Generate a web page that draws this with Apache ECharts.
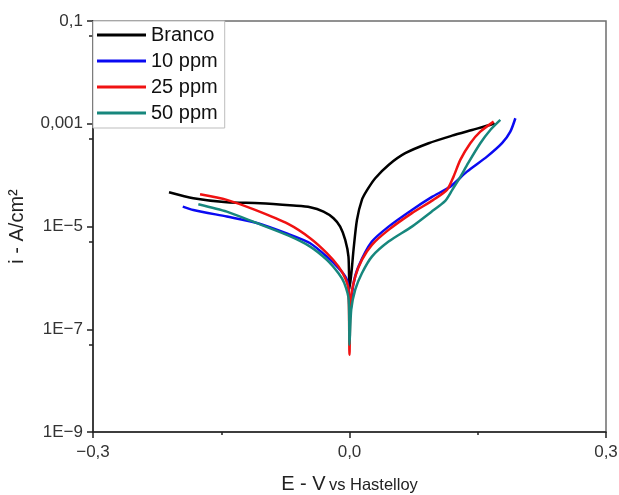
<!DOCTYPE html>
<html>
<head>
<meta charset="utf-8">
<script src="https://cdn.jsdelivr.net/npm/echarts@6/dist/echarts.min.js"></script>
<style>
html,body{margin:0;padding:0;background:#fff;}
#chart{width:619px;height:495px;}
</style>
</head>
<body>
<div id="chart"></div>
<script>
// Series names
const seriesNames = ['Branco', '10 ppm', '25 ppm', '50 ppm'];
const seriesColors = ['#000000', '#0a0af2', '#f01212', '#17877d'];

// [E (V vs Hastelloy), i (A/cm2)]
const branco = [
  [-0.2111, 4.65e-5], [-0.1826, 3.56e-5], [-0.1435, 2.97e-5], [-0.1045, 2.84e-5],
  [-0.0656, 2.55e-5], [-0.0460, 2.37e-5], [-0.0304, 1.95e-5], [-0.0187, 1.45e-5],
  [-0.0109, 9.95e-6], [-0.0050, 5.48e-6], [-0.0012, 2.59e-6], [0.0000, 6.0e-7],
  [0.0026, 1.43e-6], [0.0047, 3.51e-6], [0.0087, 1.34e-5], [0.0145, 3.30e-5],
  [0.0207, 5.15e-5], [0.0301, 8.71e-5], [0.0457, 1.58e-4], [0.0652, 2.67e-4],
  [0.0925, 4.18e-4], [0.1199, 5.86e-4], [0.1433, 7.57e-4], [0.1667, 9.77e-4],
  [0.1694, 1.04e-3]
];
const ppm10 = [
  [-0.1950, 2.44e-5], [-0.1826, 2.10e-5], [-0.1435, 1.56e-5], [-0.1104, 1.20e-5],
  [-0.0718, 7.18e-6], [-0.0460, 4.73e-6], [-0.0265, 2.59e-6], [-0.0109, 1.43e-6],
  [-0.0030, 9.14e-7], [-0.0006, 4.68e-7], [0.0000, 1.51e-7],
  [0.0014, 2.4e-7], [0.0043, 7.2e-7], [0.0105, 1.66e-6], [0.0262, 5.08e-6],
  [0.0457, 9.95e-6], [0.0730, 2.10e-5], [0.0965, 3.77e-5], [0.1179, 5.97e-5],
  [0.1374, 1.17e-4], [0.1608, 2.29e-4], [0.1784, 4.18e-4], [0.1881, 7.02e-4],
  [0.1940, 1.28e-3]
];
const ppm25 = [
  [-0.1748, 4.25e-5], [-0.1435, 3.30e-5], [-0.1104, 2.10e-5], [-0.0718, 1.12e-5],
  [-0.0460, 5.92e-6], [-0.0265, 3.03e-6], [-0.0129, 1.66e-6], [-0.0050, 9.86e-7],
  [-0.0012, 5.9e-7], [0.0000, 3.2e-8],
  [0.0014, 3.73e-7], [0.0067, 1.06e-6], [0.0145, 2.24e-6], [0.0262, 4.39e-6],
  [0.0457, 8.59e-6], [0.0730, 1.82e-5], [0.0980, 3.30e-5], [0.1140, 5.15e-5],
  [0.1217, 9.35e-5], [0.1296, 1.98e-4], [0.1413, 4.18e-4], [0.1530, 7.02e-4],
  [0.1686, 1.10e-3]
];
const ppm50 = [
  [-0.1768, 2.72e-5], [-0.1435, 1.95e-5], [-0.1104, 1.20e-5], [-0.0718, 6.71e-6],
  [-0.0460, 4.06e-6], [-0.0265, 2.24e-6], [-0.0129, 1.23e-6], [-0.0062, 8.0e-7],
  [-0.0009, 3.7e-7], [0.0000, 5.0e-8],
  [0.0020, 2.4e-7], [0.0067, 5.9e-7], [0.0145, 1.23e-6], [0.0262, 2.59e-6],
  [0.0457, 5.08e-6], [0.0730, 9.95e-6], [0.0956, 1.92e-5], [0.1120, 3.15e-5],
  [0.1202, 5.15e-5], [0.1296, 9.23e-5], [0.1389, 1.73e-4], [0.1530, 4.18e-4],
  [0.1647, 7.57e-4], [0.1764, 1.19e-3]
];

// Tick labels
const xTickLabels = ['\u22120,3', '0,0', '0,3'];
const yTickLabels = ['1E\u22129', '1E\u22127', '1E\u22125', '0,001', '0,1'];

const allData = [branco, ppm10, ppm25, ppm50];
const FONT = '"Liberation Sans", Arial, sans-serif';

const chart = echarts.init(document.getElementById('chart'), null, {renderer: 'canvas'});
chart.setOption({
  animation: false,
  backgroundColor: '#ffffff',
  grid: {
    left: 93, top: 21, right: 13, bottom: 63,
    containLabel: false, outerBoundsMode: 'none',
    show: true, borderColor: '#6e6e6e', borderWidth: 1.5, backgroundColor: 'transparent'
  },
  legend: {
    orient: 'vertical',
    left: 93, top: 21,
    padding: [3, 7, 4, 4],
    itemGap: 4,
    itemWidth: 49, itemHeight: 3,
    icon: 'rect',
    backgroundColor: '#ffffff',
    borderColor: '#bdbdbd', borderWidth: 1,
    textStyle: {fontFamily: FONT, fontSize: 20, color: '#111', lineHeight: 22},
    data: seriesNames
  },
  xAxis: {
    type: 'value',
    min: -0.3, max: 0.3, interval: 0.3,
    name: '{a|E - V} {b|vs Hastelloy}',
    nameLocation: 'middle', nameGap: 40,
    nameTextStyle: {
      rich: {
        a: {fontFamily: FONT, fontSize: 20, color: '#222', verticalAlign: 'bottom', lineHeight: 22},
        b: {fontFamily: FONT, fontSize: 16.5, color: '#222', verticalAlign: 'bottom', lineHeight: 20}
      }
    },
    axisLine: {show: true, onZero: false, lineStyle: {color: '#222', width: 1.5}},
    axisTick: {show: true, inside: false, length: 6, lineStyle: {color: '#222', width: 1.5}},
    minorTick: {show: true, splitNumber: 2, length: 3, lineStyle: {color: '#222', width: 1.5}},
    splitLine: {show: false},
    axisLabel: {
      fontFamily: FONT, fontSize: 17, color: '#333', margin: 12,
      formatter: function (v) { return xTickLabels[Math.round((v + 0.3) / 0.3)]; }
    }
  },
  yAxis: {
    type: 'log', logBase: 10,
    min: 1e-9, max: 0.1, interval: 2,
    name: 'i - A/cm\u00b2',
    nameLocation: 'middle', nameGap: 66, nameRotate: 90,
    nameTextStyle: {fontFamily: FONT, fontSize: 20, color: '#222'},
    axisLine: {show: true, onZero: false, lineStyle: {color: '#222', width: 1.5}},
    axisTick: {show: true, inside: false, length: 6, lineStyle: {color: '#222', width: 1.5}},
    minorTick: {show: true, splitNumber: 2, length: 4, lineStyle: {color: '#222', width: 1.5}},
    splitLine: {show: false},
    axisLabel: {
      fontFamily: FONT, fontSize: 17, color: '#333', margin: 10,
      formatter: function (v) {
        const e = Math.round(Math.log10(v));
        return yTickLabels[Math.round((e + 9) / 2)];
      }
    }
  },
  series: allData.map(function (d, k) {
    return {
      name: seriesNames[k],
      type: 'line',
      data: d,
      showSymbol: false,
      symbol: 'none',
      smooth: 0.25,
      color: seriesColors[k],
      lineStyle: {color: seriesColors[k], width: 2.5},
      z: 2 + k
    };
  })
});
</script>
</body>
</html>
